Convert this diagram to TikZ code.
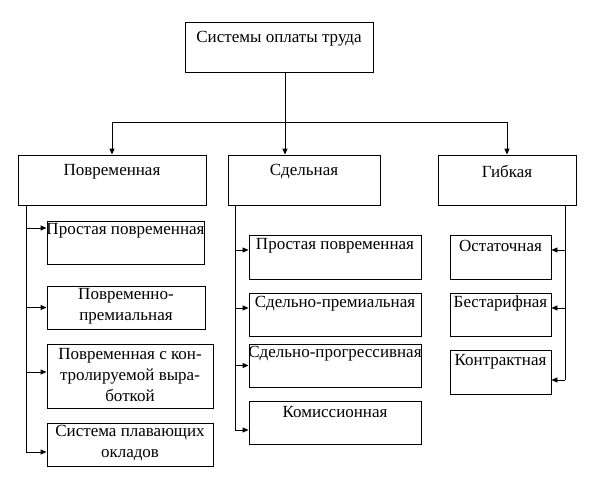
\documentclass[tikz,border=0pt]{standalone}
\usepackage{fontspec}
\setmainfont{Liberation Serif}
\usetikzlibrary{arrows.meta}
\begin{document}
\begin{tikzpicture}[x=1pt,y=-1pt,
  box/.style={draw, line width=0.9pt, inner sep=0pt},
  tx/.style={font=\fontsize{17}{21}\selectfont, align=center, inner sep=0pt, anchor=center},
  ln/.style={line width=0.9pt},
  arr/.style={ln, -{Triangle[length=6pt,width=5pt]}}]
\useasboundingbox (0,0) rectangle (601,490);
% boxes
\node[box, minimum width=188pt, minimum height=50pt] (top) at (279,47) {};
\node[box, minimum width=188pt, minimum height=50pt] (P) at (112,180) {};
\node[box, minimum width=152pt, minimum height=50pt] (S) at (304,180) {};
\node[box, minimum width=138pt, minimum height=50pt] (G) at (507,180) {};
\node[box, minimum width=157pt, minimum height=43pt] (L1) at (125.5,242.5) {};
\node[box, minimum width=158pt, minimum height=43pt] (L2) at (126,307.5) {};
\node[box, minimum width=166pt, minimum height=64pt] (L3) at (130,376) {};
\node[box, minimum width=166pt, minimum height=43pt] (L4) at (130,444.5) {};
\node[box, minimum width=172pt, minimum height=44pt] (M1) at (335,257) {};
\node[box, minimum width=172pt, minimum height=43pt] (M2) at (335,314.5) {};
\node[box, minimum width=172pt, minimum height=43pt] (M3) at (335,365.5) {};
\node[box, minimum width=172pt, minimum height=43pt] (M4) at (335,422.5) {};
\node[box, minimum width=101pt, minimum height=44pt] (R1) at (500.5,257) {};
\node[box, minimum width=101pt, minimum height=43pt] (R2) at (500.5,314.5) {};
\node[box, minimum width=101pt, minimum height=44pt] (R3) at (500.5,372) {};
% texts
\node[tx] (ttop) at ([yshift=-17pt]top.north) {Системы оплаты труда};
\node[tx] (tP) at ([yshift=-17pt]P.north) {Повременная};
\node[tx] (tS) at ([yshift=-17pt]S.north) {Сдельная};
\node[tx] (tG) at ([yshift=-17pt]G.north) {Гибкая};
\node[tx] (tL1) at ([yshift=-10pt]L1.north) {Простая повременная};
\node[tx] (tL2) at ([yshift=-21pt]L2.north) {Повременно-\\премиальная};
\node[tx] (tL3) at ([yshift=-31pt]L3.north) {Повременная с кон-\\тролируемой выра-\\боткой};
\node[tx] (tL4) at ([yshift=-20pt]L4.north) {Система плавающих\\окладов};
\node[tx] (tM1) at ([yshift=-11pt]M1.north) {Простая повременная};
\node[tx] (tM2) at ([yshift=-11pt]M2.north) {Сдельно-премиальная};
\node[tx] (tM3) at ([yshift=-10pt]M3.north) {Сдельно-прогрессивная};
\node[tx] (tM4) at ([yshift=-11pt]M4.north) {Комиссионная};
\node[tx] (tR1) at ([yshift=-11pt]R1.north) {Остаточная};
\node[tx] (tR2) at ([yshift=-11pt]R2.north) {Бестарифная};
\node[tx] (tR3) at ([yshift=-12pt]R3.north) {Контрактная};
% top connectors
\coordinate (jt) at (285,122);
\draw[ln] ([xshift=6pt]top.south) -- (jt);
\draw[arr] (jt) -- (jt |- S.north);
\draw[ln] (jt -| P.north) -- (jt -| G.north);
\draw[arr] (jt -| P.north) -- (P.north);
\draw[arr] (jt -| G.north) -- (G.north);
% left branch
\coordinate (lv) at (26,205);
\coordinate (a1) at ([yshift=14.5pt]L1.west);
\coordinate (a2) at (L2.west);
\coordinate (a3) at ([yshift=4pt]L3.west);
\coordinate (a4) at ([yshift=-7.5pt]L4.west);
\draw[ln] (lv) -- (lv |- a4);
\foreach \a in {a1,a2,a3,a4} \draw[arr] (lv |- \a) -- (\a);
% middle branch
\coordinate (mv) at (235,205);
\coordinate (b1) at ([yshift=7pt]M1.west);
\coordinate (b2) at ([yshift=6.5pt]M2.west);
\coordinate (b3) at (M3.west);
\coordinate (b4) at ([yshift=-7.5pt]M4.west);
\draw[ln] (mv) -- (mv |- b4);
\foreach \b in {b1,b2,b3,b4} \draw[arr] (mv |- \b) -- (\b);
% right branch
\coordinate (rv) at (565,205);
\coordinate (c1) at ([yshift=7pt]R1.east);
\coordinate (c2) at ([yshift=6.5pt]R2.east);
\coordinate (c3) at ([yshift=-8pt]R3.east);
\draw[ln] (rv) -- (rv |- c3);
\foreach \c in {c1,c2,c3} \draw[arr] (rv |- \c) -- (\c);
\end{tikzpicture}
\end{document}
